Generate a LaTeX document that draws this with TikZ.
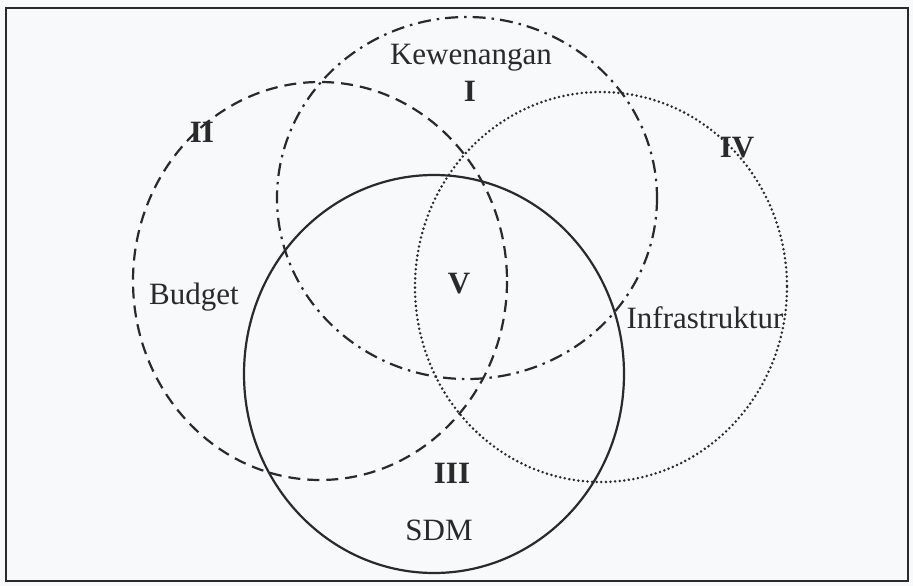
\documentclass[tikz,border=0pt]{standalone}
\usepackage{fontspec}
\setmainfont{Liberation Serif}
\definecolor{InkGray}{HTML}{2A2A2A}
\definecolor{PaperWhite}{HTML}{F8F9FA}

\tikzset{
  setname/.style={font=\fontsize{31}{36}\selectfont, text=InkGray, anchor=base, inner sep=0pt},
  regionno/.style={font=\bfseries\fontsize{31}{36}\selectfont, text=InkGray, anchor=base, inner sep=0pt},
  kwnline/.style={InkGray, line width=2.2pt, dash pattern=on 13pt off 6pt on 2.5pt off 6pt},
  budgetline/.style={InkGray, line width=2.2pt, dash pattern=on 12pt off 7pt},
  infraline/.style={InkGray, line width=2.8pt, line cap=round, dash pattern=on 0pt off 4.6pt},
  sdmline/.style={InkGray, line width=2.2pt}
}

\begin{document}
\begin{tikzpicture}[x=1pt, y=-1pt]
  \useasboundingbox[fill=PaperWhite] (0,0) rectangle (913,586);
  \draw[InkGray, line width=2.4pt] (6,8) rectangle (908,581);

  % the four sets
  \draw[kwnline] (467,198) ellipse [x radius=190, y radius=181];
  \draw[budgetline] (320,281) ellipse [x radius=187, y radius=199];
  \draw[infraline] (601,287) ellipse [x radius=186, y radius=195];
  \draw[sdmline] (434,374) ellipse [x radius=190, y radius=199];

  % names of the sets
  \node[setname] (kewenangan) at (471,65) {Kewenangan};
  \node[setname] (budget) at (194,304) {Budget};
  \node[setname] (infra) at (705,328) {Infrastruktur};
  \node[setname] (sdm) at (439,540) {SDM};

  % region numbers
  \node[regionno] (regI) at (470,102) {I};
  \node[regionno] (regII) at (202,142) {II};
  \node[regionno] (regIII) at (452,483) {III};
  \node[regionno] (regIV) at (737,157) {IV};
  \node[regionno] (regV) at (459,293) {V};
\end{tikzpicture}
\end{document}
